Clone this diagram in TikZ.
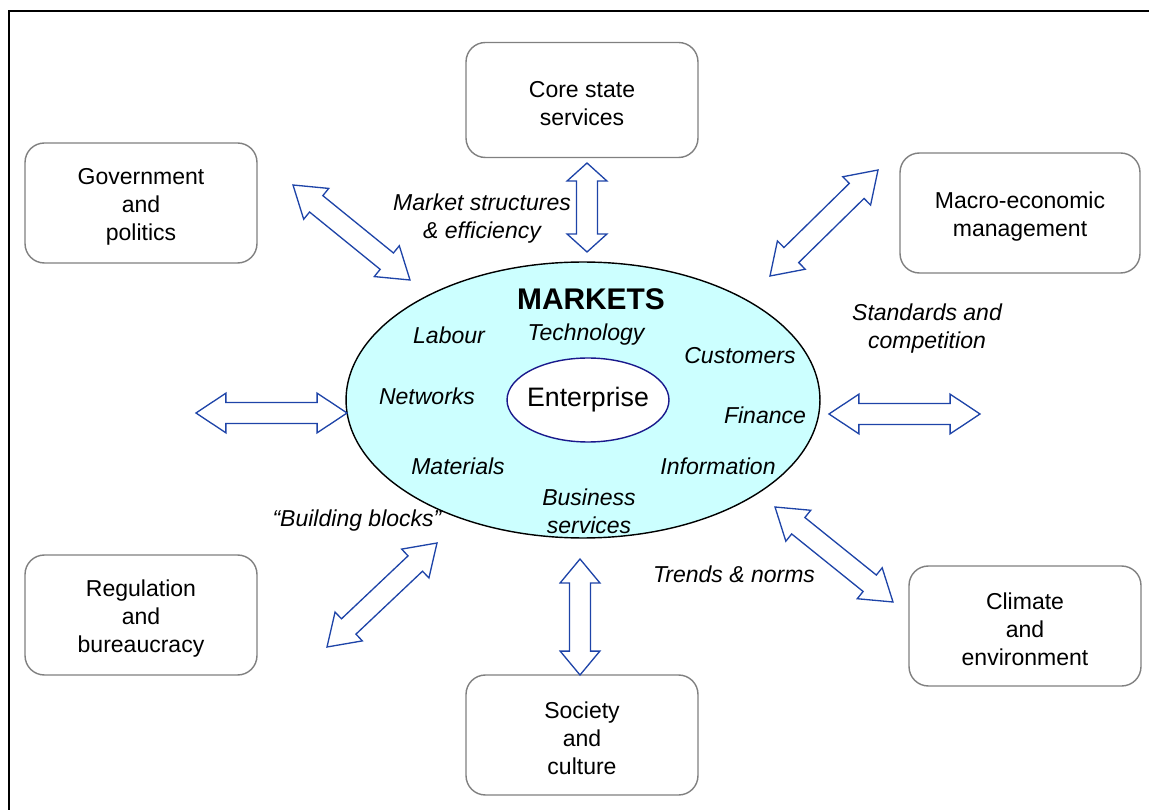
\documentclass[tikz,border=0pt]{standalone}
\usepackage{fontspec}
\setmainfont{Liberation Sans}
\usetikzlibrary{shapes.geometric,calc}

\definecolor{arrowblue}{RGB}{30,68,168}
\definecolor{marketcyan}{RGB}{204,255,255}
\definecolor{entblue}{RGB}{25,25,140}

% hollow two-way arrow between two named points, #1 = head length in px
\newcommand{\wayarrow}[3][30]{%
  \draw[wayline] let \p1=(#2), \p2=(#3), \n1={atan2(\y2-\y1,\x2-\x1)}, \n2={#1*0.567pt} in
    (\p1) -- ($(\p1)+(\n1:\n2)+(\n1+90:11.3pt)$) -- ($(\p1)+(\n1:\n2)+(\n1+90:6pt)$)
    -- ($(\p2)+(\n1+180:\n2)+(\n1+90:6pt)$) -- ($(\p2)+(\n1+180:\n2)+(\n1+90:11.3pt)$)
    -- (\p2) -- ($(\p2)+(\n1+180:\n2)+(\n1-90:11.3pt)$) -- ($(\p2)+(\n1+180:\n2)+(\n1-90:6pt)$)
    -- ($(\p1)+(\n1:\n2)+(\n1-90:6pt)$) -- ($(\p1)+(\n1:\n2)+(\n1-90:11.3pt)$) -- cycle;
}
% extra room above the first line of a box
\newcommand{\boxtop}{\rule{0pt}{13.6pt}}

\tikzset{
  sector/.style={draw=gray, line width=0.8pt, rounded corners=11pt, fill=white,
    minimum width=4.64cm, minimum height=2.4cm, align=center,
    font=\fontsize{13.1}{15.9}\selectfont},
  theme/.style={align=center, inner sep=0pt, font=\fontsize{13.1}{15.9}\selectfont\itshape},
  wayline/.style={draw=arrowblue, line width=0.75pt, fill=white, line join=miter},
}

\begin{document}
\begin{tikzpicture}[x=0.02cm, y=-0.02cm]
\useasboundingbox (0,0) rectangle (1149,810);
\draw[line width=1.1pt] (9,810) |- (1149,11);

% outer boxes
\node[sector, minimum height=2.3cm] (core) at (582,100) {\boxtop Core state\\services};
\node[sector] (gov) at (141,203) {\boxtop Government\\and\\politics};
\node[sector, minimum width=4.8cm] (macro) at (1020,213) {\boxtop Macro-economic\\management};
\node[sector] (reg) at (141,615) {\boxtop Regulation\\and\\bureaucracy};
\node[sector] (soc) at (582,735) {\boxtop Society\\and\\culture};
\node[sector] (clim) at (1025,626) {\boxtop Climate\\and\\environment};

% markets
\node[ellipse, draw, line width=0.8pt, fill=marketcyan, minimum width=9.48cm, minimum height=5.52cm, inner sep=0pt] (markets) at (583,400) {};
\node[ellipse, draw=entblue, line width=0.8pt, fill=white, minimum width=3.24cm, minimum height=1.68cm,
  inner xsep=-2.4pt, inner ysep=0pt, font=\fontsize{15.2}{18}\selectfont] (ent) at (588,400) {Enterprise};
\node[font=\fontsize{17}{20}\selectfont\bfseries, inner sep=0pt] (mk) at (591,299) {MARKETS};
\node[theme] (labour) at (449,335) {Labour};
\node[theme] (tech) at (586,335) {Technology};
\node[theme] (cust) at (740,356) {Customers};
\node[theme] (netw) at (427,396) {Networks};
\node[theme] (fin) at (765,415) {Finance};
\node[theme] (mat) at (458,466) {Materials};
\node[theme] (info) at (718,466) {Information};
\node[theme] (bus) at (589,511) {Business\\services};

% outside labels
\node[theme] (struct) at (482,219) {Market structures\\\& efficiency};
\node[theme] (stand) at (927,329) {Standards and\\competition};
\node[theme] (build) at (357,521) {“Building blocks”};
\node[theme] (trend) at (734,574) {Trends \& norms};

% arrow ends
\coordinate (top-a) at (587,163);   \coordinate (top-b) at (587,252);
\coordinate (bot-a) at (580,559);   \coordinate (bot-b) at (580,675);
\coordinate (left-a) at (196,413);  \coordinate (left-b) at (347,413);
\coordinate (right-a) at (829,414); \coordinate (right-b) at (980,414);
\coordinate (ul-a) at (293,185);    \coordinate (ul-b) at (410,280);
\coordinate (ur-a) at (770,276);    \coordinate (ur-b) at (878,170);
\coordinate (ll-a) at (327,647);    \coordinate (ll-b) at (437,543);
\coordinate (lr-a) at (775,507);    \coordinate (lr-b) at (893,602);

\wayarrow[18]{top-a}{top-b}
\wayarrow[24]{bot-a}{bot-b}
\wayarrow{left-a}{left-b}
\wayarrow{right-a}{right-b}
\wayarrow{ul-a}{ul-b}
\wayarrow{ur-a}{ur-b}
\wayarrow{ll-a}{ll-b}
\wayarrow{lr-a}{lr-b}
\end{tikzpicture}
\end{document}
